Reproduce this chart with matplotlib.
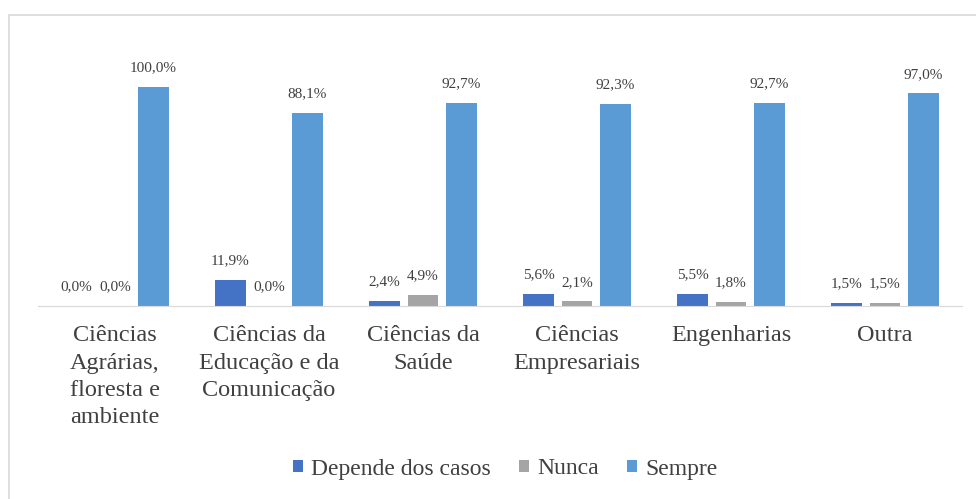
import numpy as np
import matplotlib.pyplot as plt
from matplotlib.patches import Rectangle

categories = ['Ciências\nAgrárias,\nfloresta e\nambiente', 'Ciências da\nEducação e da\nComunicação',
              'Ciências da\nSaúde', 'Ciências\nEmpresariais', 'Engenharias', 'Outra']
depende = [0.0, 11.9, 2.4, 5.6, 5.5, 1.5]
nunca = [0.0, 0.0, 4.9, 2.1, 1.8, 1.5]
sempre = [100.0, 88.1, 92.7, 92.3, 92.7, 97.0]
series_names = ['Depende dos casos', 'Nunca', 'Sempre']
colors = ['#4472C4', '#A5A5A5', '#5B9BD5']

plt.rcParams['font.family'] = ['Liberation Serif', 'DejaVu Serif']

fig = plt.figure(figsize=(9.76, 4.99), dpi=100)
# outer chart frame (right and bottom edges fall outside the image)
fig.patches.append(Rectangle((8.5/976, -0.1), 1.2, 1.1 - 14.5/499, transform=fig.transFigure,
                             fill=False, edgecolor='#D9D9D9', linewidth=1.2))
ax = fig.add_axes([38/976, 193/499, 924/976, 241/499])

index = np.arange(len(categories))
bar_width = 0.195
offset = 0.25

for k, (vals, name, c) in enumerate(zip([depende, nunca, sempre], series_names, colors)):
    pos = index + (k - 1) * offset
    ax.bar(pos, vals, bar_width, color=c, label=name)
    for x, v in zip(pos, vals):
        ax.text(x, v + 5.8, ('%.1f%%' % v).replace('.', ','), ha='center', va='bottom',
                fontsize=11, color='#404040')

ax.set_xlim(-0.5, len(categories) - 0.5)
ax.set_ylim(0, 110)
ax.set_yticks([])
for s in ['top', 'right', 'left']:
    ax.spines[s].set_visible(False)
ax.spines['bottom'].set_color('#D9D9D9')
ax.set_xticks(index)
ax.set_xticklabels(categories, fontsize=17.5, color='#404040', linespacing=1.38)
ax.tick_params(axis='x', length=0, pad=14)

fig.legend(loc='center', bbox_to_anchor=(505/976, 1 - 469/499), ncol=3, frameon=False,
           fontsize=17, handlelength=0.42, handleheight=0.42, handletextpad=0.35,
           columnspacing=1.2, labelcolor='#404040')

fig.savefig('out.png', dpi=100)
